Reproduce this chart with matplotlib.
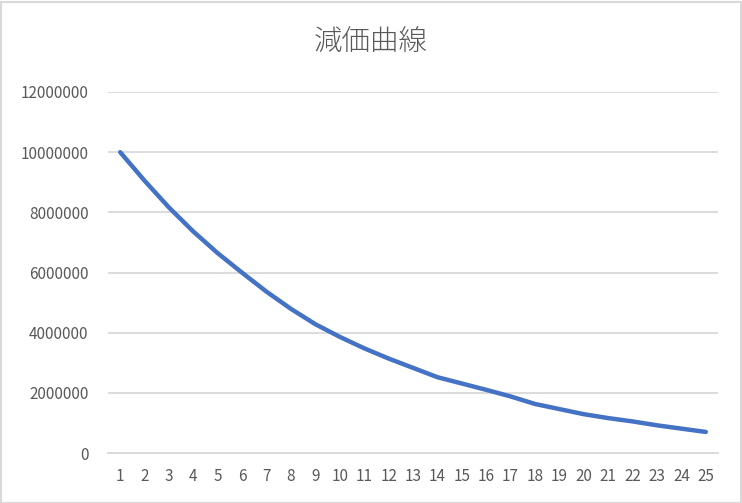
import matplotlib
matplotlib.use("Agg")
import matplotlib.pyplot as plt
from matplotlib.patches import Rectangle

plt.rcParams['font.family'] = ['Noto Sans CJK JP', 'DejaVu Sans']

# Book value per year
years = list(range(1, 26))
book_value = [10000000, 9050000, 8160000, 7360000, 6640000, 5990000, 5360000,
              4790000, 4280000, 3860000, 3480000, 3140000, 2830000, 2520000,
              2310000, 2100000, 1880000, 1630000, 1460000, 1290000, 1160000,
              1050000, 920000, 810000, 700000]
y_ticks = [0, 2000000, 4000000, 6000000, 8000000, 10000000, 12000000]
title = "減価曲線"

text_color = "#595959"
grid_color = "#d9d9d9"
line_color = "#4472C4"

fig = plt.figure(figsize=(7.42, 5.03), dpi=100)
ax = fig.add_axes([108 / 742, 1 - 453 / 503, 610 / 742, 361 / 503])

ax.plot(years, book_value, color=line_color, linewidth=3.2,
        solid_capstyle='round', solid_joinstyle='round', zorder=3)

ax.set_xlim(0.5, 25.5)
ax.set_ylim(0, 12000000)
ax.set_xticks(years)
ax.set_xticklabels([str(v) for v in years])
ax.set_yticks(y_ticks)
ax.set_yticklabels([str(v) for v in y_ticks])
ax.yaxis.grid(True, color=grid_color, linewidth=1.3)
ax.set_axisbelow(True)
for s in ['top', 'right', 'left']:
    ax.spines[s].set_visible(False)
ax.spines['bottom'].set_color(grid_color)
ax.spines['bottom'].set_linewidth(1.3)
ax.tick_params(axis='both', length=0, colors=text_color, labelsize=11)
ax.tick_params(axis='y', pad=14)
ax.tick_params(axis='x', pad=11)

fig.text(0.5, 1 - 42 / 503, title, ha='center', va='center',
         fontsize=20.5, color=text_color, fontweight='light')

# Chart frame
fig.patches.append(Rectangle((0.5 / 742, 0.5 / 503), 740 / 742, 501 / 503,
                             transform=fig.transFigure, fill=False,
                             edgecolor=grid_color, linewidth=1.5))

fig.savefig("out.png", dpi=100, facecolor="white")
